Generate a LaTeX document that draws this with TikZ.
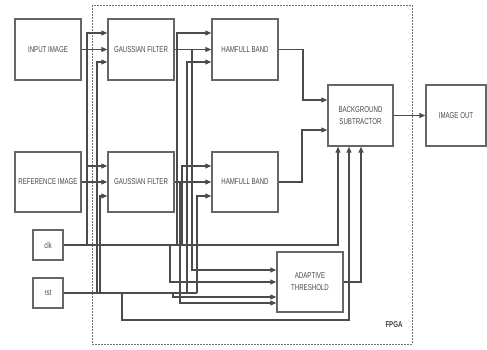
\documentclass[tikz,border=0pt]{standalone}
\usepackage{fontspec}
\setmainfont[FakeStretch=0.72]{Liberation Sans}
\usetikzlibrary{arrows.meta}
\begin{document}
\begin{tikzpicture}[x=1pt,y=-1pt,
  blk/.style={draw=black!60, line width=1.4pt, minimum width=66pt, minimum height=61pt,
    inner sep=1pt, font=\fontsize{8.5}{12}\selectfont, text=black!72, align=center},
  small/.style={blk, minimum width=30pt, minimum height=30pt},
  wire/.style={draw=black!70, line width=1.1pt},
  arr/.style={wire, -{Triangle[length=6pt,width=5pt]}},
  frame/.style={draw=black!55, line width=1pt, dash pattern=on 1.6pt off 1.4pt}]
\useasboundingbox (0,0) rectangle (487,349);
% FPGA frame
\draw[frame] (92,5) rectangle (412,344);
\node[font=\fontsize{8.5}{10}\selectfont\bfseries, text=black!75] (fpga) at (394,325) {FPGA};
% blocks
\node[blk] (inp) at (48,49.5) {INPUT IMAGE};
\node[blk, minimum height=60pt] (ref) at (48,182) {REFERENCE IMAGE};
\node[blk] (gf1) at (141,49.5) {GAUSSIAN FILTER};
\node[blk, minimum height=60pt] (gf2) at (141,182) {GAUSSIAN FILTER};
\node[blk] (hb1) at (245,49.5) {HAMFULL BAND};
\node[blk, minimum height=60pt] (hb2) at (245,182) {HAMFULL BAND};
\node[blk, minimum width=65pt] (bs) at (360.5,115.5) {BACKGROUND\\SUBTRACTOR};
\node[blk, minimum width=60pt] (out) at (456,115.5) {IMAGE OUT};
\node[blk, minimum height=60pt] (at) at (310,282) {ADAPTIVE\\THRESHOLD};
\node[small] (clk) at (48,245) {clk};
\node[small] (rst) at (48,293) {rst};
% junction coordinates
\coordinate (kg) at (87,245);
\coordinate (kh1) at (177,245);
\coordinate (kh2) at (182,245);
\coordinate (ka) at (170,245);
\coordinate (rg1) at (97,293);
\coordinate (rg2) at (100,293);
\coordinate (rh1) at (187,293);
\coordinate (rh2) at (197,293);
\coordinate (ra) at (173,293);
\coordinate (rb) at (122,293);
\coordinate (rbl) at (122,320);
\coordinate (g1a) at (192,49.5);
\coordinate (g2a) at (180,182);
\coordinate (h1b) at (303,49.5);
\coordinate (h2b) at (302,182);
% main data path
\draw[arr] (inp.east) -- (gf1.west);
\draw[arr] (ref.east) -- (gf2.west);
\draw[arr] (gf1.east) -- (hb1.west);
\draw[arr] (gf2.east) -- (hb2.west);
\draw[arr] (hb1.east) -- (h1b) |- ([yshift=15.5pt]bs.west);
\draw[arr] (hb2.east) -- (h2b) |- ([yshift=-14.5pt]bs.west);
\draw[arr] (bs.east) -- (out.west);
% clk
\draw[arr] (clk.east) -| ([xshift=-22.5pt]bs.south);
\draw[arr] (kg) |- ([yshift=16.5pt]gf1.west);
\draw[arr] (kg) |- ([yshift=16pt]gf2.west);
\draw[arr] (kh1) |- ([yshift=16.5pt]hb1.west);
\draw[arr] (kh2) |- ([yshift=16pt]hb2.west);
\draw[arr] (ka) |- (at.west);
% rst
\draw[wire] (rst.east) -- (rh2);
\draw[arr] (rg1) |- ([yshift=-12.5pt]gf1.west);
\draw[arr] (rg2) |- ([yshift=-14pt]gf2.west);
\draw[arr] (rh1) |- ([yshift=-12.5pt]hb1.west);
\draw[arr] (rh2) |- ([yshift=-14pt]hb2.west);
\draw[arr] (ra) |- ([yshift=-15pt]at.west);
\draw[arr] (rb) -- (rbl) -| ([xshift=-11.5pt]bs.south);
% filter outputs to threshold
\draw[arr] (g1a) |- ([yshift=12pt]at.west);
\draw[arr] (g2a) |- ([yshift=-21pt]at.west);
% threshold to subtractor
\draw[arr] (at.east) -| ([xshift=0.5pt]bs.south);
\end{tikzpicture}
\end{document}
